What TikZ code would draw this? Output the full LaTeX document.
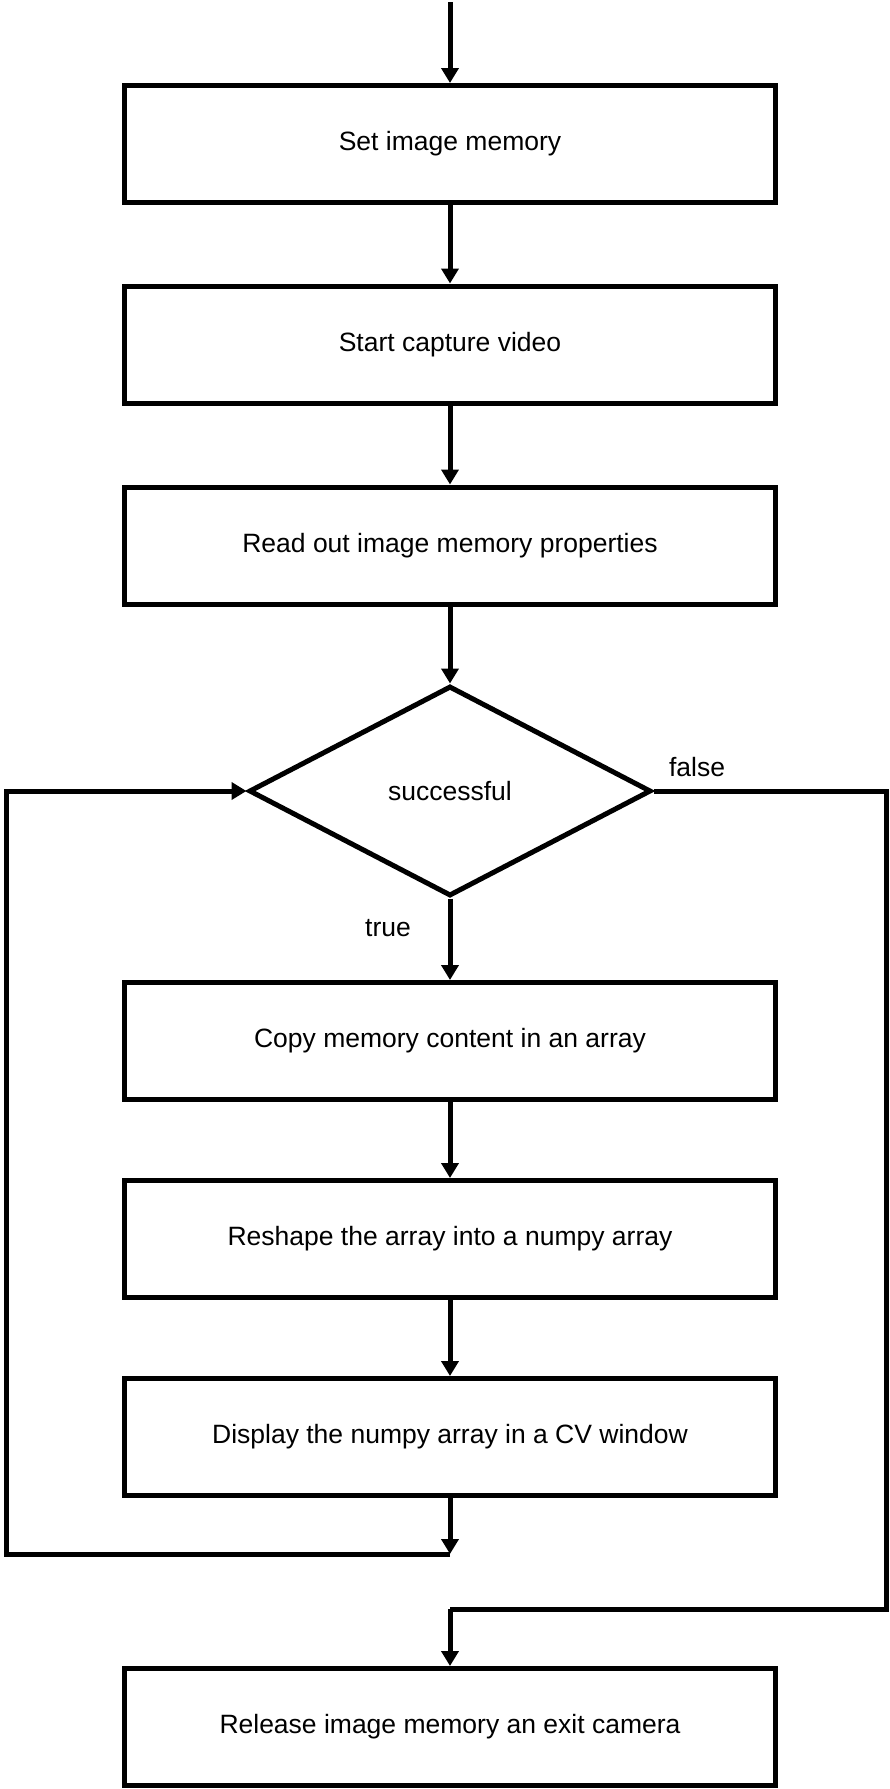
\documentclass[tikz,border=0pt]{standalone}
\usepackage{fontspec}
\setmainfont{Liberation Sans}
\usetikzlibrary{shapes.geometric,arrows.meta}
\tikzset{
	stepbox/.style={draw,line width=5pt,inner sep=0,minimum width=651pt,minimum height=117pt,font=\fontsize{26.5}{32}\selectfont},
	decision/.style={draw,diamond,line width=5pt,inner sep=0,minimum width=402pt,minimum height=210pt,font=\fontsize{26.5}{32}\selectfont},
	flow/.style={line width=5pt,-{Triangle[length=15pt,width=17pt]}},
	tag/.style={inner sep=0,font=\fontsize{26.5}{32}\selectfont}
}
\begin{document}
\begin{tikzpicture}[x=1pt,y=-1pt]
	\useasboundingbox (0,0) rectangle (890,1789);
	\coordinate (start) at (450,2);
	\node[stepbox] (mem) at (450,144) {Set image memory};
	\node[stepbox] (cap) at (450,344.5) {Start capture video};
	\node[stepbox] (props) at (450,545.5) {Read out image memory properties};
	\node[decision] (ok) at (450,791) {successful};
	\node[stepbox] (copy) at (450,1041) {Copy memory content in an array};
	\node[stepbox] (reshape) at (450,1239) {Reshape the array into a numpy array};
	\node[stepbox] (show) at (450,1437) {Display the numpy array in a CV window};
	\node[stepbox] (exit) at (450,1727) {Release image memory an exit camera};
	\coordinate (back) at (450,1554);
	\coordinate (left) at (6,791);
	\coordinate (right) at (886,1609);
	\coordinate (down) at (450,1609);
	\node[tag] (false) at (697,767) {false};
	\node[tag] (true) at (388,928) {true};
	\draw[flow] (start) -- (mem);
	\draw[flow] (mem) -- (cap);
	\draw[flow] (cap) -- (props);
	\draw[flow] (props) -- (ok);
	\draw[flow] (ok) -- (copy);
	\draw[flow] (copy) -- (reshape);
	\draw[flow] (reshape) -- (show);
	\draw[flow] (show) -- (back);
	\draw[flow] (back) -| (left) -- (ok.west);
	\draw[line width=5pt] (ok.east) -| (right) -- (down);
	\draw[flow] (down) -- (exit);
\end{tikzpicture}
\end{document}
